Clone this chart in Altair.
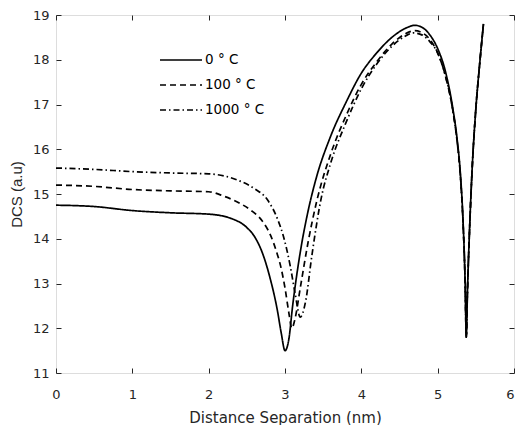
import altair as alt
import pandas as pd

# ---- data ----
series = ["0 \u00b0 C", "100 \u00b0 C", "1000 \u00b0 C"]

x0 = [0, 0.5, 1.0, 1.5, 2.0, 2.3, 2.5, 2.6, 2.7, 2.8, 2.9, 2.95, 3.0, 3.05, 3.1, 3.2, 3.3, 3.4,
      3.6, 3.8, 4.0, 4.2, 4.4, 4.6, 4.7, 4.8, 4.9, 5.0, 5.1, 5.2, 5.25, 5.3, 5.33, 5.36, 5.375,
      5.39, 5.42, 5.45, 5.5, 5.55, 5.6]
y0 = [14.75, 14.72, 14.63, 14.58, 14.55, 14.45, 14.25, 14.05, 13.7, 13.15, 12.4, 11.9, 11.5,
      11.75, 12.5, 13.7, 14.6, 15.3, 16.3, 17.05, 17.7, 18.15, 18.5, 18.72, 18.77, 18.72, 18.55,
      18.25, 17.75, 16.9, 16.3, 15.4, 14.5, 13.0, 11.8, 12.8, 14.3, 15.5, 16.9, 17.9, 18.8]

x100 = [0, 0.5, 1.0, 1.5, 2.0, 2.2, 2.4, 2.55, 2.7, 2.81, 2.9, 2.94, 3.0, 3.05, 3.09, 3.13, 3.2,
        3.3, 3.42, 3.6, 3.8, 4.0, 4.2, 4.4, 4.6, 4.7, 4.8, 4.9, 5.0, 5.1, 5.2, 5.25, 5.3, 5.33,
        5.36, 5.375, 5.39, 5.42, 5.45, 5.5, 5.55, 5.6]
y100 = [15.2, 15.17, 15.1, 15.07, 15.05, 14.95, 14.8, 14.64, 14.4, 14.08, 13.65, 13.41, 12.9,
        12.35, 12.0, 12.2, 12.9, 13.9, 14.87, 15.9, 16.75, 17.45, 17.95, 18.35, 18.6, 18.65,
        18.6, 18.45, 18.15, 17.65, 16.85, 16.25, 15.35, 14.45, 13.0, 11.8, 12.8, 14.3, 15.5,
        16.9, 17.9, 18.8]

x1000 = [0, 0.5, 1.0, 1.5, 2.0, 2.38, 2.6, 2.77, 2.9, 2.98, 3.07, 3.13, 3.2, 3.27, 3.35, 3.47,
         3.6, 3.8, 4.0, 4.2, 4.4, 4.6, 4.68, 4.8, 4.9, 5.0, 5.1, 5.2, 5.25, 5.3, 5.33, 5.36,
         5.375, 5.39, 5.42, 5.45, 5.5, 5.55, 5.6]
y1000 = [15.58, 15.55, 15.5, 15.47, 15.45, 15.31, 15.12, 14.87, 14.45, 14.05, 13.38, 12.8,
         12.25, 12.6, 13.6, 14.87, 15.7, 16.6, 17.35, 17.9, 18.3, 18.55, 18.6, 18.55, 18.4,
         18.15, 17.65, 16.85, 16.25, 15.35, 14.45, 13.0, 11.8, 12.8, 14.3, 15.5, 16.9, 17.9,
         18.8]

xticks = [0, 1, 2, 3, 4, 5, 6]
yticks = [11, 12, 13, 14, 15, 16, 17, 18, 19]

rows = []
for s, xs, ys in zip(series, [x0, x100, x1000], [y0, y100, y1000]):
    for i, (a, b) in enumerate(zip(xs, ys)):
        rows.append({"series": s, "x": a, "y": b, "order": i})
df = pd.DataFrame(rows)

FONT = "DejaVu Sans"
YT_FONT = "Liberation Sans"
AX = "#262626"

xscale = alt.Scale(domain=[0, 6], nice=False, zero=False)
yscale = alt.Scale(domain=[11, 19], nice=False, zero=False)

common_axis = dict(domain=False, grid=False, offset=-5, tickSize=5, tickColor=AX,
                   tickWidth=1, labelFont=FONT, labelFontSize=13, labelColor=AX,
                   labelFlush=False, labelOverlap=False,
                   titleColor=AX, titleFontWeight="normal")

lines = alt.Chart(df).mark_line(color="black", strokeWidth=1.7, interpolate="monotone").encode(
    x=alt.X("x:Q", scale=xscale,
            axis=alt.Axis(title="Distance Separation (nm)", values=xticks, orient="bottom",
                          labelAlign=alt.expr("datum.value >= 6 ? 'right' : 'center'"),
                          labelPadding=15, titlePadding=9, titleFont=FONT, titleFontSize=15,
                          **common_axis)),
    y=alt.Y("y:Q", scale=yscale,
            axis=alt.Axis(title="DCS (a.u)", values=yticks, orient="left",
                          labelPadding=7, titlePadding=8, titleFont=YT_FONT, titleFontSize=15,
                          **common_axis)),
    strokeDash=alt.StrokeDash(
        "series:N",
        scale=alt.Scale(domain=series, range=[[1, 0], [6, 4], [6, 3, 1.5, 3]]),
        legend=alt.Legend(title=None, orient="none", legendX=103, legendY=35,
                          symbolType="stroke", symbolSize=1764, symbolStrokeWidth=1.7,
                          symbolStrokeColor="black", clipHeight=20, rowPadding=5,
                          labelOffset=2, labelFont=FONT, labelFontSize=13.5, labelColor="black",
                          padding=0)),
    order="order:Q",
)

frame_axes = alt.Chart(df).mark_point(opacity=0).encode(
    x=alt.X("x:Q", scale=xscale,
            axis=alt.Axis(title=None, values=xticks, orient="top", labels=False, **common_axis)),
    y=alt.Y("y:Q", scale=yscale,
            axis=alt.Axis(title=None, values=yticks, orient="right", labels=False, **common_axis)),
)

chart = alt.layer(lines, frame_axes).resolve_axis(
    x="independent", y="independent"
).properties(
    width=458, height=358,
    autosize=alt.AutoSizeParams(type="none"),
    padding={"left": 48, "top": 7, "right": 1, "bottom": 56},
).configure_view(stroke=AX, strokeWidth=1.6).configure(background="white")

chart.save("out.html", embed_options={"renderer": "svg", "actions": False})
